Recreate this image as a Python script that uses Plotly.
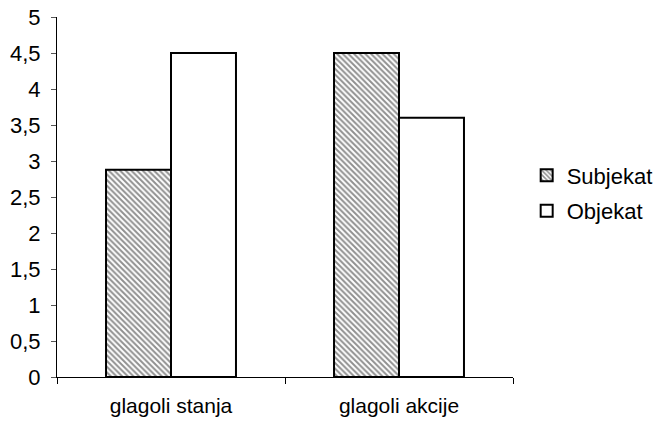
import plotly.graph_objects as go

categories = ["glagoli stanja", "glagoli akcije"]
subjekat = [2.88, 4.5]
objekat = [4.5, 3.6]
y_ticks = [0, 0.5, 1, 1.5, 2, 2.5, 3, 3.5, 4, 4.5, 5]
y_tick_labels = ["0", "0,5", "1", "1,5", "2", "2,5", "3", "3,5", "4", "4,5", "5"]

FONT = "Liberation Sans, Arial, sans-serif"

fig = go.Figure()
fig.add_trace(go.Bar(
    x=categories, y=subjekat, name="Subjekat", legendgroup="s",
    marker=dict(color="white", line=dict(color="black", width=2),
                pattern=dict(shape="\\", fgcolor="#222222", bgcolor="white",
                             size=4, solidity=0.5)),
))
fig.add_trace(go.Bar(
    x=categories, y=objekat, name="Objekat", legendgroup="o",
    marker=dict(color="white", line=dict(color="black", width=2)),
))

fig.update_layout(
    width=654, height=422,
    margin=dict(l=57, r=141, t=17, b=45, autoexpand=False),
    paper_bgcolor="white", plot_bgcolor="white",
    barmode="group", bargap=0.43, bargroupgap=0,
    font=dict(family=FONT, size=21, color="black"),
    legend=dict(x=1.03, y=0.51, xanchor="left", yanchor="middle",
                font=dict(size=22), bgcolor="rgba(0,0,0,0)", itemwidth=30,
                tracegroupgap=4),
    showlegend=True,
)
fig.update_yaxes(range=[0, 5], tickvals=y_ticks, ticktext=y_tick_labels,
                 tickfont=dict(size=22),
                 showgrid=False, showline=True, linecolor="black", linewidth=1,
                 ticks="outside", ticklen=5, tickcolor="#555555", zeroline=False,
                 ticklabelstandoff=6, automargin=False)
fig.update_xaxes(showgrid=False, showline=True, linecolor="black", linewidth=1,
                 ticks="outside", ticklen=6, tickcolor="black", tickson="boundaries",
                 ticklabelstandoff=10, automargin=False)

fig.write_html("out.html", post_script="document.body.style.margin='0';",
               config={"displayModeBar": False})
